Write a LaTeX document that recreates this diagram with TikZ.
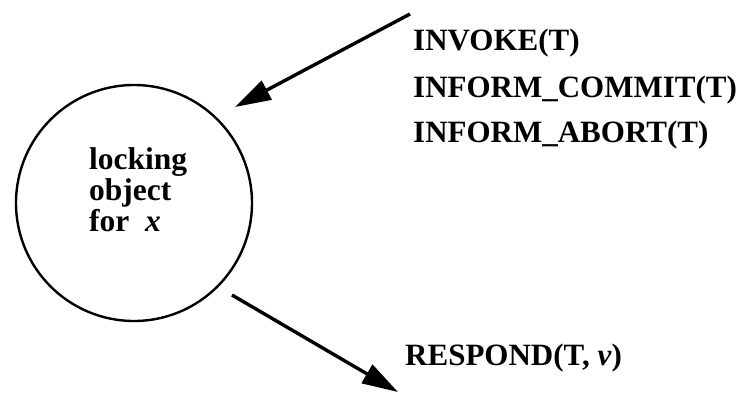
\documentclass[tikz,border=0pt]{standalone}
\usepackage{fontspec}
\setmainfont{Liberation Serif}
\usetikzlibrary{arrows.meta}
\begin{document}
\begin{tikzpicture}[x=1pt,y=-1pt,
  lbl/.style={anchor=base west,inner sep=0pt,font=\fontsize{31}{31}\selectfont\bfseries},
  ctext/.style={anchor=north west,inner sep=0pt,align=left,font=\fontsize{31.5}{31}\selectfont\bfseries},
  obj/.style={draw,circle,line width=2.4pt,minimum size=236pt,inner sep=0pt},
  msg/.style={line width=3.4pt,-{Triangle[length=36pt,width=21pt]}}]
\useasboundingbox (0,0) rectangle (749,394);
\node[obj] (c) at (134,203) {};
\node[ctext] (t) at (89,147) {locking\\object\\for \ \textit{x}};
\coordinate (a1s) at (410,14);
\coordinate (a1e) at (235,107);
\coordinate (a2s) at (232,295);
\coordinate (a2e) at (398,392);
\draw[msg] (a1s) -- (a1e);
\draw[msg] (a2s) -- (a2e);
\node[lbl] (l1) at (413,50) {INVOKE(T)};
\node[lbl] (l2) at (413,97) {INFORM\_COMMIT(T)};
\node[lbl] (l3) at (413,142) {INFORM\_ABORT(T)};
\node[lbl] (l4) at (405,365) {RESPOND(T, \textit{v})};
\end{tikzpicture}
\end{document}
